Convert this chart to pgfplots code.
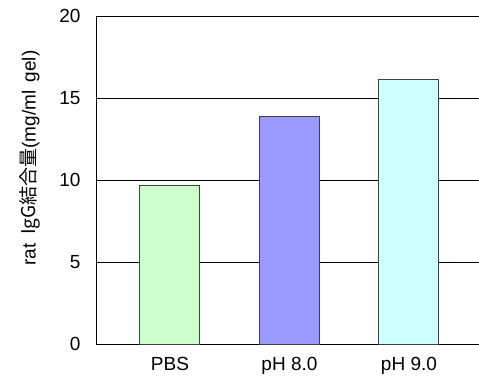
\documentclass[border=0pt]{standalone}
\usepackage{pgfplots}
\pgfplotsset{compat=1.18}
\usepackage{fontspec}
\setmainfont{Liberation Sans}
\newfontfamily\cjk{Noto Sans CJK JP}
\definecolor{cA}{HTML}{CCFFCC}
\definecolor{cB}{HTML}{9999FF}
\definecolor{cC}{HTML}{CCFFFF}
\begin{document}
\begin{tikzpicture}
\path[use as bounding box] (0,0) rectangle (479bp,384bp);
\begin{axis}[
  at={(96bp,40bp)}, anchor=south west,
  scale only axis, width=383bp, height=328bp,
  xmin=-0.619, xmax=2.586, ymin=0, ymax=20,
  axis x line*=bottom, axis y line*=left,
  axis line style={black, line width=1pt, -},
  ytick={0,5,10,15,20},
  xtick={0,1,2}, xticklabels={PBS, pH 8.0, pH 9.0},
  major tick length=0pt,
  ymajorgrids, grid style={black, line width=0.9pt},
  tick label style={font=\fontsize{19bp}{22bp}\selectfont},
  /pgf/number format/assume math mode=true,
  yticklabel style={xshift=-12bp},
  xticklabel style={yshift=-10bp},
  ylabel={rat\, {\cjk IgG結合量}(mg/ml\, gel)},
  ylabel style={font=\fontsize{19bp}{22bp}\selectfont, at={(axis description cs:-0.172,0.567)}, anchor=center},
  bar width=60bp,
  clip=false,
]
\addplot[ybar, bar shift=0pt, fill=cA, draw=black!75, line width=1pt] coordinates {(0,9.67)};
\addplot[ybar, bar shift=0pt, fill=cB, draw=black!75, line width=1pt] coordinates {(1,13.88)};
\addplot[ybar, bar shift=0pt, fill=cC, draw=black!75, line width=1pt] coordinates {(2,16.1)};
\end{axis}
\end{tikzpicture}
\end{document}
